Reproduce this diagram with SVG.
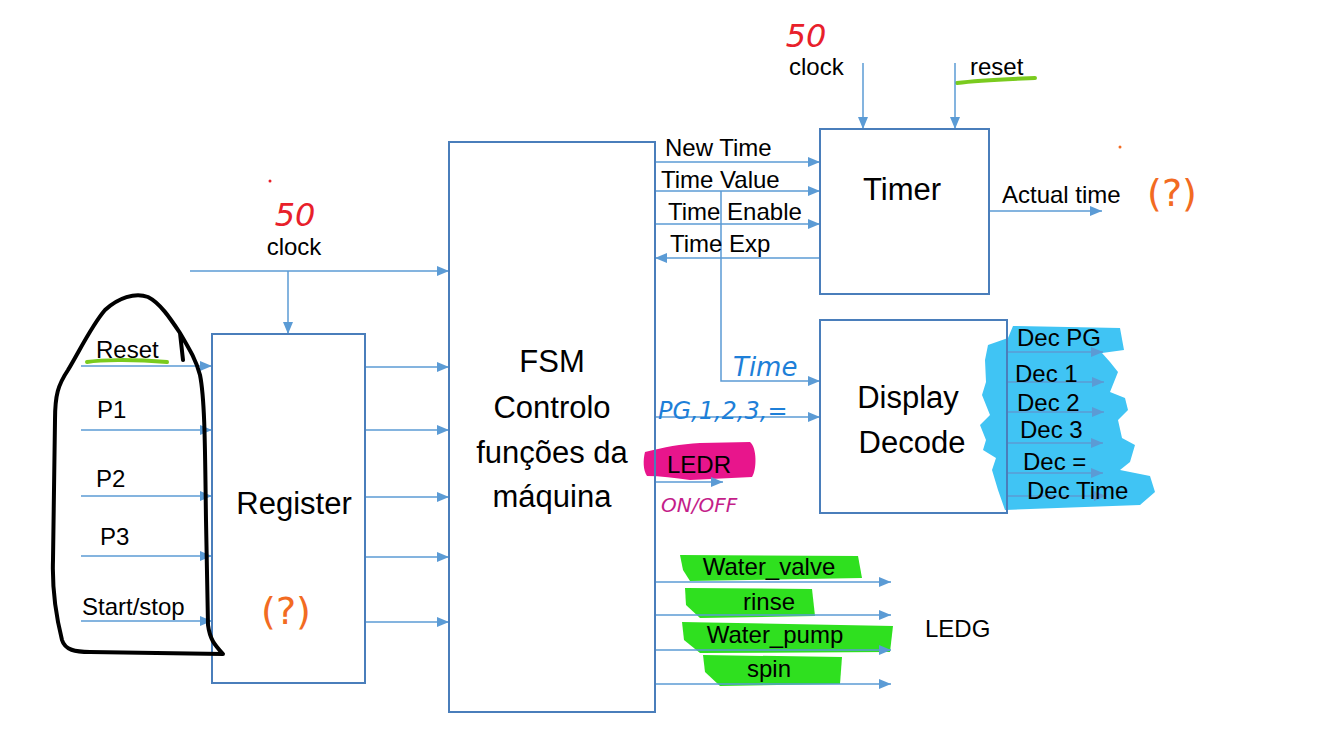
<svg xmlns="http://www.w3.org/2000/svg" width="1337" height="741" viewBox="0 0 1337 741">
<style>
.box{fill:none;stroke:#4A7EBB;stroke-width:2}
.ln{fill:none;stroke:#5B9BD5;stroke-width:1.5}
.big{font-family:"Liberation Sans",Arial,sans-serif;font-size:31px;fill:#000}
.lbl{font-family:"Liberation Sans",Arial,sans-serif;font-size:24px;fill:#000}
.hand{font-family:"DejaVu Sans",sans-serif;font-style:italic}
.hg{fill:#2FE01F}
</style>
<defs>
<marker id="ah" viewBox="0 0 12 10" refX="12" refY="5" markerWidth="12" markerHeight="10" orient="auto" markerUnits="userSpaceOnUse"><path d="M0,0 L12,5 L0,10 z" fill="#5B9BD5"/></marker>
</defs>
<rect width="1337" height="741" fill="#fff"/>

<g id="highlights">
<path fill="#40C4F4" d="M1013,326 L1120,328 L1124,350 L1102,353 L1110,362 L1118,372 L1110,392 L1125,398 L1128,410 L1118,420 L1122,438 L1135,445 L1130,462 L1120,470 L1150,476 L1155,492 L1140,505 L1005,510 L998,490 L992,470 L996,458 L983,450 L986,440 L980,425 L990,415 L982,395 L986,382 L985,360 L988,345 L1008,338 z"/>
<path class="hg" d="M680,555 L858,556 L862,578 L690,581 L683,570 z"/>
<path class="hg" d="M685,588 L812,589 L815,616 L700,618 L686,605 z"/>
<path class="hg" d="M682,622 L893,626 L890,652 L700,653 L684,640 z"/>
<path class="hg" d="M703,655 L842,657 L840,684 L720,686 L705,672 z"/>
<path fill="#E8158C" d="M645,452 C665,447 680,444 700,443 L750,442 C757,447 757,470 752,477 L690,480 C675,478 660,476 647,476 C643,470 643,460 645,452 z"/>
<path d="M87,362 C100,360 130,359 167,362" stroke="#7ACB1E" stroke-width="4" fill="none" stroke-linecap="round"/>
<path d="M957,83 C980,80 1010,79 1035,78" stroke="#7ACB1E" stroke-width="4" fill="none" stroke-linecap="round"/>
</g>

<g id="connectors">
<line class="ln" x1="190" y1="271" x2="449" y2="271" marker-end="url(#ah)"/>
<line class="ln" x1="288" y1="271" x2="288" y2="334" marker-end="url(#ah)"/>
<line class="ln" x1="81" y1="366" x2="212" y2="366" marker-end="url(#ah)"/>
<line class="ln" x1="81" y1="430" x2="212" y2="430" marker-end="url(#ah)"/>
<line class="ln" x1="81" y1="496" x2="212" y2="496" marker-end="url(#ah)"/>
<line class="ln" x1="81" y1="556" x2="212" y2="556" marker-end="url(#ah)"/>
<line class="ln" x1="81" y1="621" x2="212" y2="621" marker-end="url(#ah)"/>
<line class="ln" x1="365" y1="367" x2="449" y2="367" marker-end="url(#ah)"/>
<line class="ln" x1="365" y1="430" x2="449" y2="430" marker-end="url(#ah)"/>
<line class="ln" x1="365" y1="497" x2="449" y2="497" marker-end="url(#ah)"/>
<line class="ln" x1="365" y1="557" x2="449" y2="557" marker-end="url(#ah)"/>
<line class="ln" x1="365" y1="622" x2="449" y2="622" marker-end="url(#ah)"/>
<line class="ln" x1="655" y1="162" x2="820" y2="162" marker-end="url(#ah)"/>
<line class="ln" x1="655" y1="191" x2="820" y2="191" marker-end="url(#ah)"/>
<line class="ln" x1="655" y1="224" x2="820" y2="224" marker-end="url(#ah)"/>
<line class="ln" x1="820" y1="258" x2="655" y2="258" marker-end="url(#ah)"/>
<polyline class="ln" points="721,191 721,381 820,381" marker-end="url(#ah)"/>
<line class="ln" x1="655" y1="417" x2="820" y2="417" marker-end="url(#ah)"/>
<line class="ln" x1="655" y1="482" x2="723" y2="482" marker-end="url(#ah)"/>
<line class="ln" x1="863" y1="63" x2="863" y2="129" marker-end="url(#ah)"/>
<line class="ln" x1="955" y1="63" x2="955" y2="129" marker-end="url(#ah)"/>
<line class="ln" x1="989" y1="211" x2="1102" y2="211" marker-end="url(#ah)"/>
<line class="ln" x1="1007" y1="352" x2="1103" y2="352" marker-end="url(#ah)"/>
<line class="ln" x1="1007" y1="382" x2="1104" y2="382" marker-end="url(#ah)"/>
<line class="ln" x1="1007" y1="412" x2="1104" y2="412" marker-end="url(#ah)"/>
<line class="ln" x1="1007" y1="443" x2="1103" y2="443" marker-end="url(#ah)"/>
<line class="ln" x1="1007" y1="473" x2="1103" y2="473" marker-end="url(#ah)"/>
<line class="ln" x1="1007" y1="496" x2="1106" y2="496" marker-end="url(#ah)"/>
<line class="ln" x1="655" y1="582" x2="891" y2="582" marker-end="url(#ah)"/>
<line class="ln" x1="655" y1="615" x2="891" y2="615" marker-end="url(#ah)"/>
<line class="ln" x1="655" y1="650" x2="891" y2="650" marker-end="url(#ah)"/>
<line class="ln" x1="655" y1="684" x2="891" y2="684" marker-end="url(#ah)"/>
</g>

<g id="register">
<rect class="box" x="212" y="334" width="153" height="349"/>
<text class="big" x="294" y="514" text-anchor="middle">Register</text>
<text x="286" y="624" text-anchor="middle" font-family="DejaVu Sans,sans-serif" font-size="38" fill="#F26B22">(?)</text>
</g>

<g id="fsm">
<rect class="box" x="449" y="142" width="206" height="570"/>
<text class="big" x="552" y="372" text-anchor="middle">FSM</text>
<text class="big" x="552" y="418" text-anchor="middle">Controlo</text>
<text class="big" x="552" y="463" text-anchor="middle">funções da</text>
<text class="big" x="552" y="507" text-anchor="middle">máquina</text>
</g>

<g id="timer">
<rect class="box" x="820" y="129" width="169" height="165"/>
<text class="big" x="902" y="200" text-anchor="middle">Timer</text>
</g>

<g id="display">
<rect class="box" x="820" y="320" width="187" height="193"/>
<text class="big" x="908" y="408" text-anchor="middle">Display</text>
<text class="big" x="912" y="453" text-anchor="middle">Decode</text>
</g>

<g id="labels">
<text class="lbl" x="294" y="255" text-anchor="middle">clock</text>
<text class="lbl" x="96" y="358">Reset</text>
<text class="lbl" x="97" y="418">P1</text>
<text class="lbl" x="96" y="487">P2</text>
<text class="lbl" x="100" y="545">P3</text>
<text class="lbl" x="82" y="615">Start/stop</text>
<text class="lbl" x="665" y="156">New Time</text>
<text class="lbl" x="661" y="188">Time Value</text>
<text class="lbl" x="668" y="220">Time Enable</text>
<text class="lbl" x="670" y="252">Time Exp</text>
<text class="lbl" x="789" y="75">clock</text>
<text class="lbl" x="970" y="75">reset</text>
<text class="lbl" x="1002" y="203">Actual time</text>
<text class="lbl" x="667" y="473" font-size="27">LEDR</text>
<text class="lbl" x="1017" y="346">Dec PG</text>
<text class="lbl" x="1015" y="382">Dec 1</text>
<text class="lbl" x="1017" y="411">Dec 2</text>
<text class="lbl" x="1020" y="438">Dec 3</text>
<text class="lbl" x="1023" y="470" font-size="22">Dec =</text>
<text class="lbl" x="1027" y="499" font-size="22">Dec Time</text>
<text class="lbl" x="769" y="575" text-anchor="middle">Water_valve</text>
<text class="lbl" x="769" y="610" text-anchor="middle">rinse</text>
<text class="lbl" x="775" y="643" text-anchor="middle">Water_pump</text>
<text class="lbl" x="769" y="677" text-anchor="middle">spin</text>
<text class="lbl" x="925" y="637" font-size="27">LEDG</text>
</g>

<g id="annotations">
<text class="hand" x="295" y="226" text-anchor="middle" font-size="32" fill="#E8202A">50</text>
<text class="hand" x="806" y="47" text-anchor="middle" font-size="32" fill="#E8202A">50</text>
<circle cx="270" cy="181" r="1.5" fill="#E8202A"/>
<text x="1172" y="206" text-anchor="middle" font-family="DejaVu Sans,sans-serif" font-size="38" fill="#F26B22">(?)</text>
<circle cx="1120" cy="147" r="1.5" fill="#F26B22"/>
<text class="hand" x="733" y="376" font-size="26" fill="#1E7FD8">Time</text>
<text class="hand" x="658" y="419" font-size="24" fill="#1E7FD8">PG,1,2,3,=</text>
<text class="hand" x="661" y="512" font-size="20" fill="#C41E8A">ON/OFF</text>
<path d="M180,333 L183,360 M180,333 C170,318 160,303 148,297 C135,292 118,298 105,310 C92,325 80,350 68,370 C58,385 55,395 55,420 L53,560 C52,590 57,620 62,640 C65,650 75,652 90,652 L223,654 C215,645 210,640 208,625 L206,520 C205,450 205,400 200,375 C196,360 190,350 180,333" fill="none" stroke="#000" stroke-width="4" stroke-linejoin="round" stroke-linecap="round"/>
</g>
</svg>
